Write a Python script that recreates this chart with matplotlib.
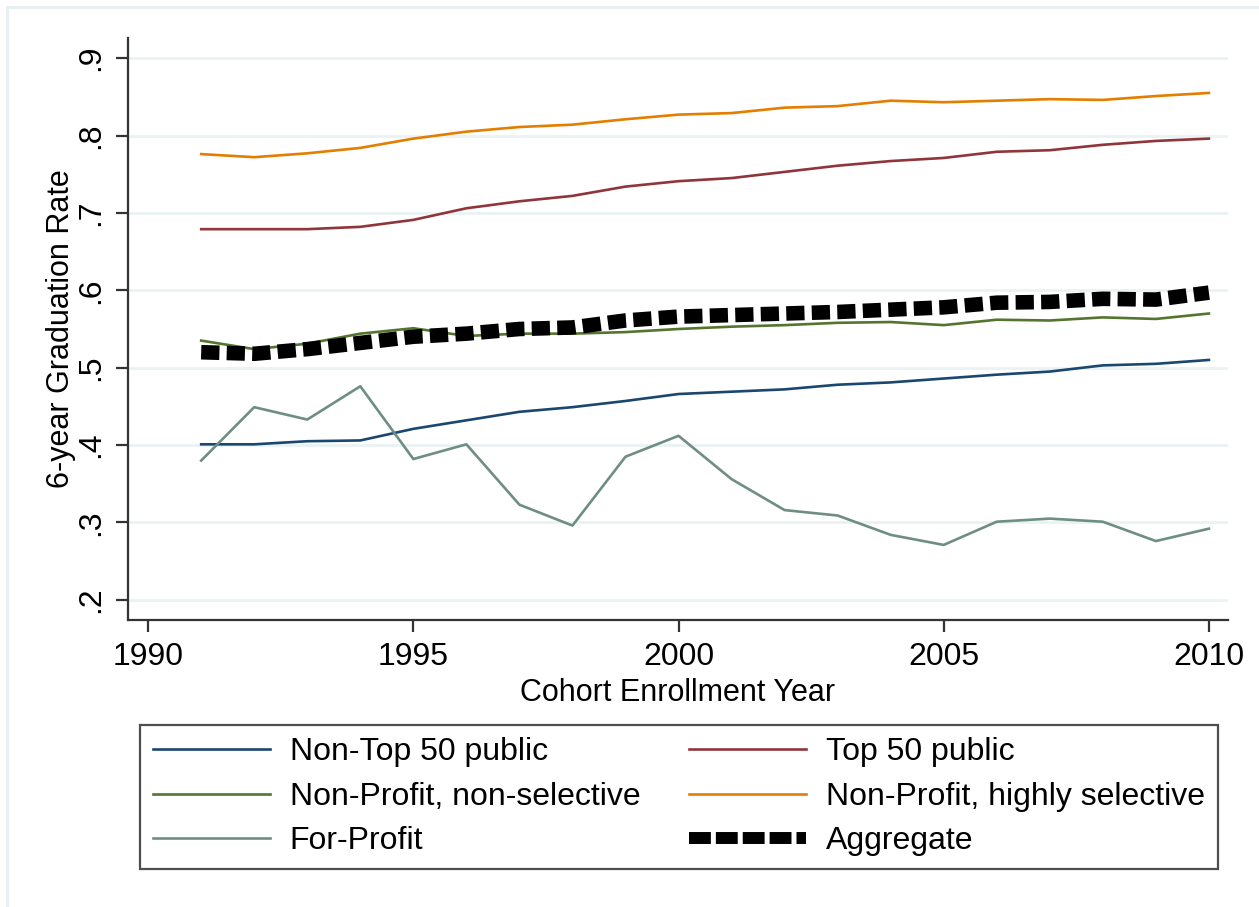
import matplotlib
matplotlib.use("Agg")
import matplotlib.pyplot as plt
from matplotlib.patches import Rectangle
from matplotlib.lines import Line2D

plt.rcParams['font.family'] = ['Liberation Sans', 'DejaVu Sans']

years = list(range(1991, 2011))

non_top50_public = [0.401, 0.401, 0.405, 0.406, 0.421, 0.432, 0.443, 0.449, 0.457, 0.466,
                    0.469, 0.472, 0.478, 0.481, 0.486, 0.491, 0.495, 0.503, 0.505, 0.510]
top50_public = [0.679, 0.679, 0.679, 0.682, 0.691, 0.706, 0.715, 0.722, 0.734, 0.741,
                0.745, 0.753, 0.761, 0.767, 0.771, 0.779, 0.781, 0.788, 0.793, 0.796]
np_non_selective = [0.535, 0.524, 0.531, 0.544, 0.551, 0.541, 0.544, 0.544, 0.546, 0.550,
                    0.553, 0.555, 0.558, 0.559, 0.555, 0.562, 0.561, 0.565, 0.563, 0.570]
np_highly_selective = [0.776, 0.772, 0.777, 0.784, 0.796, 0.805, 0.811, 0.814, 0.821, 0.827,
                       0.829, 0.836, 0.838, 0.845, 0.843, 0.845, 0.847, 0.846, 0.851, 0.855]
for_profit = [0.380, 0.449, 0.433, 0.476, 0.382, 0.401, 0.323, 0.296, 0.385, 0.412,
              0.356, 0.316, 0.309, 0.284, 0.271, 0.301, 0.305, 0.301, 0.276, 0.292]
aggregate = [0.520, 0.518, 0.524, 0.532, 0.540, 0.544, 0.550, 0.552, 0.561, 0.566,
             0.568, 0.570, 0.572, 0.575, 0.578, 0.584, 0.585, 0.589, 0.588, 0.597]

y_ticks = [0.2, 0.3, 0.4, 0.5, 0.6, 0.7, 0.8, 0.9]
y_labels = [".2", ".3", ".4", ".5", ".6", ".7", ".8", ".9"]
x_ticks = [1990, 1995, 2000, 2005, 2010]

fig = plt.figure(figsize=(12.59, 9.07), dpi=100)
fig.patch.set_facecolor("white")
# faint outer frame, cut off at right and bottom like the source image
fig.patches.append(Rectangle((7 / 1259, -0.1), 1.2, 1.1 - 7 / 907, transform=fig.transFigure,
                             fill=False, edgecolor="#e6eff1", linewidth=2))

ax = fig.add_axes([128 / 1259, 1 - 620 / 907, (1228 - 128) / 1259, (620 - 38) / 907])

l1, = ax.plot(years, non_top50_public, color="#1a476f", lw=1.9, label="Non-Top 50 public")
l2, = ax.plot(years, top50_public, color="#90353b", lw=1.9, label="Top 50 public")
l3, = ax.plot(years, np_non_selective, color="#55752f", lw=1.9, label="Non-Profit, non-selective")
l4, = ax.plot(years, np_highly_selective, color="#e37e00", lw=1.9, label="Non-Profit, highly selective")
l5, = ax.plot(years, for_profit, color="#6e8e84", lw=1.9, label="For-Profit")
ax.plot(years, aggregate, color="black", lw=10.5, dashes=(1.25, 0.5), dash_capstyle="butt")
l6 = Line2D([], [], color="black", lw=8.6, dashes=(1.83, 0.42), dash_capstyle="butt", label="Aggregate")

ax.set_xlim(1989.62, 2010.36)
ax.set_ylim(0.174, 0.926)
ax.set_yticks(y_ticks)
ax.set_yticklabels(y_labels, rotation=90, va="center")
ax.set_xticks(x_ticks)
ax.yaxis.grid(True, color="#eaf2f3", lw=2)
ax.set_axisbelow(True)

for s in ["top", "right"]:
    ax.spines[s].set_visible(False)
for s in ["left", "bottom"]:
    ax.spines[s].set_color("#333333")
    ax.spines[s].set_linewidth(1.6)
ax.tick_params(axis="both", length=8.5, width=1.6, color="#333333", labelsize=23, pad=7)

ax.set_xlabel("Cohort Enrollment Year", fontsize=22)
ax.xaxis.set_label_coords(0.5, -0.100)
ax.set_ylabel("6-year Graduation Rate", fontsize=22)
ax.yaxis.set_label_coords(-0.047, 0.5)

# row-wise order (matplotlib fills the legend column by column)
handles = [l1, l3, l5, l2, l4, l6]
leg = fig.legend(handles=handles, loc="lower left",
                 bbox_to_anchor=(140 / 1259, 1 - 869 / 907, (1218 - 140) / 1259, 145 / 907),
                 mode="expand", ncol=2, fontsize=23, frameon=True, fancybox=False,
                 edgecolor="#222222", handlelength=3.66, handletextpad=0.62,
                 labelspacing=0.45, borderpad=0.40, borderaxespad=0)
leg.get_frame().set_linewidth(1.6)

fig.savefig("out.png", dpi=100)
